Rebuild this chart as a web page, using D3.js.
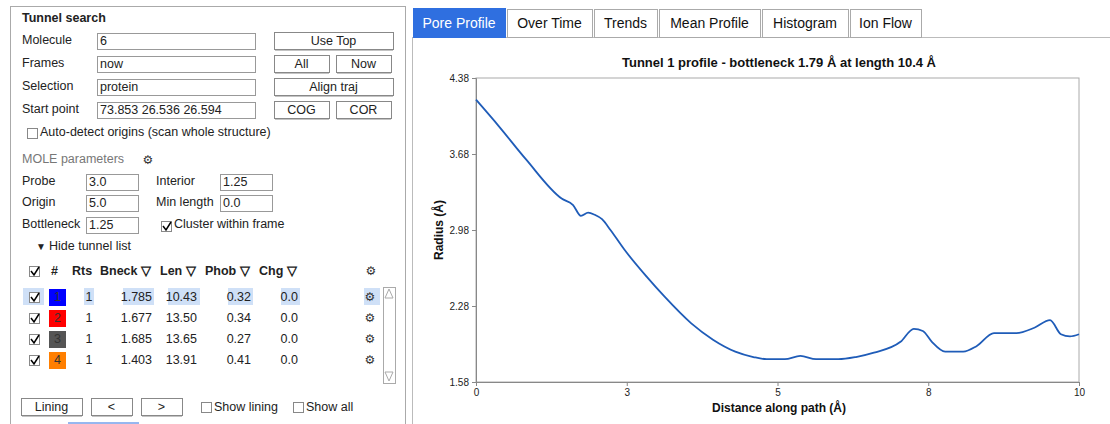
<!DOCTYPE html>
<html><head><meta charset="utf-8">
<script src="https://cdn.jsdelivr.net/npm/d3@7"></script>
<style>body{margin:0;background:#fff;font-family:"Liberation Sans",sans-serif;}</style>
</head><body>
<script>
// profile data (distance along path, radius)
const dist = [0,0.38,0.83,1.42,1.61,1.74,1.86,1.97,2.09,2.23,2.46,2.83,3.12,3.57,3.93,4.30,4.60,4.82,5.12,5.38,5.64,6.01,6.30,6.60,7.04,7.26,7.41,7.56,7.78,8.08,8.30,8.59,8.96,9.26,9.52,9.70,9.85,10.0];
const radius = [4.18,3.935,3.63,3.27,3.21,3.11,3.14,3.12,3.08,2.98,2.80,2.55,2.37,2.12,1.97,1.86,1.81,1.79,1.79,1.82,1.79,1.79,1.81,1.85,1.95,2.07,2.05,1.95,1.86,1.86,1.91,2.03,2.03,2.08,2.15,2.02,2.00,2.02];
const xTicks = [0,2.5,5,7.5,10];
const yTicks = [1.58,2.28,2.98,3.68,4.38];
const tabs = ["Pore Profile","Over Time","Trends","Mean Profile","Histogram","Ion Flow"];
const tabX = [413,507,594,659,762,850,923];
const tunnels = [
 {id:1,color:"#0000ff",rts:1,bneck:"1.785",len:"10.43",phob:"0.32",chg:"0.0"},
 {id:2,color:"#ff0000",rts:1,bneck:"1.677",len:"13.50",phob:"0.34",chg:"0.0"},
 {id:3,color:"#555555",rts:1,bneck:"1.685",len:"13.65",phob:"0.27",chg:"0.0"},
 {id:4,color:"#ff7f00",rts:1,bneck:"1.403",len:"13.91",phob:"0.41",chg:"0.0"}];

const svg = d3.select("body").append("svg").attr("width",1110).attr("height",424);
const F = "Liberation Sans, sans-serif";

function text(x,y,s,o={}){return svg.append("text").attr("x",x).attr("y",y).text(s)
  .attr("font-family",o.f||F).attr("font-size",o.size||12.5).attr("fill",o.fill||"#222")
  .attr("font-weight",o.bold?"bold":null).attr("text-anchor",o.anchor||"start");}
function box(x,y,w,h,o={}){return svg.append("rect").attr("x",x+.5).attr("y",y+.5).attr("width",w).attr("height",h)
  .attr("fill",o.fill||"#fff").attr("stroke",o.stroke||"#999");}
function button(x,y,w,label){box(x,y,w,17,{stroke:"#888"});
  svg.append("line").attr("x1",x+1).attr("x2",x+w).attr("y1",y+18).attr("y2",y+18).attr("stroke","#888");
  text(x+w/2,y+13,label,{anchor:"middle"});}
function input(x,y,w,val){box(x,y,w,16,{stroke:"#999"});text(x+3,y+12,val);}
function check(x,y,on){box(x,y,10,10,{stroke:"#888"});
  if(on) svg.append("path").attr("d",`M${x+2},${y+5} l3,4 l5,-8`).attr("fill","none").attr("stroke","#000").attr("stroke-width",1.5);}
function gear(x,y){text(x,y,"⚙",{size:12,anchor:"middle",fill:"#333",f:"DejaVu Sans"});}

// left panel
box(10,6,395,425,{stroke:"#aaa"});
text(22,22,"Tunnel search",{bold:true});
[["Molecule","6",40],["Frames","now",63],["Selection","protein",86],["Start point","73.853 26.536 26.594",109]]
 .forEach(([l,v,y])=>{text(22,y+4,l);input(97,y-7,158,v);});
button(274,32,119,"Use Top");button(274,55,55,"All");button(336,55,55,"Now");
button(274,78,119,"Align traj");button(274,101,55,"COG");button(336,101,55,"COR");
check(27,128,false);text(40,136,"Auto-detect origins (scan whole structure)");
text(22,163,"MOLE parameters",{fill:"#777"});gear(148,164);
text(22,185,"Probe");input(86,174,52,"3.0");text(156,185,"Interior");input(220,174,52,"1.25");
text(22,206,"Origin");input(86,195,52,"5.0");text(156,206,"Min length");input(220,195,52,"0.0");
text(22,228,"Bottleneck");input(86,217,52,"1.25");check(161,221,true);text(174,228,"Cluster within frame");
text(36,250,"▼",{size:10});text(49,250,"Hide tunnel list");
check(29,266,true);
[["#",51],["Rts",72],["Bneck ▽",100],["Len ▽",160],["Phob ▽",205],["Chg ▽",259]].forEach(([s,x])=>text(x,275,s,{bold:true}));
gear(371,275);
// scrollbar
box(383,287,12,96,{stroke:"#aaa"});
svg.append("path").attr("d","M385,298 L389,289 L393,298 Z M385,372 L389,381 L393,372 Z").attr("fill","none").attr("stroke","#aaa");
tunnels.forEach((t,i)=>{
  const y=287+i*21;
  if(i===0){[[23,21],[84,10],[123,31],[168,32],[228,25],[281,19],[364,16]].forEach(([x,w])=>
    svg.append("rect").attr("x",x).attr("y",y+1).attr("width",w).attr("height",17).attr("fill","#cfe0f7"));}
  check(29,y+5,true);
  svg.append("rect").attr("x",49).attr("y",y+2).attr("width",17).attr("height",17).attr("fill",t.color);
  text(57.5,y+14,t.id,{anchor:"middle",fill:"#333"});
  text(89,y+14,t.rts,{anchor:"middle"});
  text(152,y+14,t.bneck,{anchor:"end"});
  text(197,y+14,t.len,{anchor:"end"});
  text(251,y+14,t.phob,{anchor:"end"});
  text(298,y+14,t.chg,{anchor:"end"});
  gear(370,y+14);
});
button(21,398,61,"Lining");button(91,398,41,"<");button(141,398,41,">");
check(201,402,false);text(214,411,"Show lining");check(293,402,false);text(306,411,"Show all");
svg.append("line").attr("x1",68).attr("x2",139).attr("y1",423).attr("y2",423).attr("stroke","#2f6fe0");

// right panel
box(412,37,700,390,{stroke:"#bbb"});
tabs.forEach((t,i)=>{
  const x=tabX[i],w=tabX[i+1]-x-2;
  svg.append("rect").attr("x",x+.5).attr("y",i?9.5:8.5).attr("width",w).attr("height",i?28:29)
    .attr("fill",i?"#fff":"#2f6fe0").attr("stroke",i?"#aaa":"#2f6fe0");
  text(x+w/2,28,t,{anchor:"middle",size:14,fill:i?"#111":"#fff"});
});

const m={l:476,r:1079,t:78,b:382};
const x=d3.scaleLinear().domain([0,10]).range([m.l,m.r]);
const y=d3.scaleLinear().domain([1.58,4.38]).range([m.b,m.t]);
svg.append("rect").attr("x",m.l).attr("y",m.t).attr("width",m.r-m.l).attr("height",m.b-m.t)
  .attr("fill","none").attr("stroke","#aaa");
const xa=svg.append("g").attr("transform",`translate(0,${m.b})`)
  .call(d3.axisBottom(x).tickValues(xTicks).tickSize(4).tickFormat(d=>Math.round(d+0.01)));
const ya=svg.append("g").attr("transform",`translate(${m.l},0)`)
  .call(d3.axisLeft(y).tickValues(yTicks).tickSize(4).tickFormat(d3.format(".2f")));
[xa,ya].forEach(a=>{a.select(".domain").attr("stroke","#888");a.selectAll("line").attr("stroke","#888");
  a.selectAll("text").attr("font-family","Liberation Sans Narrow, Liberation Sans, sans-serif").attr("font-size",10).attr("fill","#222");});
svg.append("path").datum(dist.map((d,i)=>[d,radius[i]]))
  .attr("d",d3.line().x(d=>x(d[0])).y(d=>y(d[1])).curve(d3.curveMonotoneX))
  .attr("fill","none").attr("stroke","#1f5cb8").attr("stroke-width",1.8);
text(779,67,"Tunnel 1 profile - bottleneck 1.79 Å at length 10.4 Å",{bold:true,anchor:"middle",size:13,fill:"#111"});
text(779,412,"Distance along path (Å)",{bold:true,anchor:"middle",size:12,fill:"#111"});
text(0,0,"Radius (Å)",{bold:true,anchor:"middle",size:12,fill:"#111"})
  .attr("transform","translate(443,230) rotate(-90)");
</script>
</body></html>
